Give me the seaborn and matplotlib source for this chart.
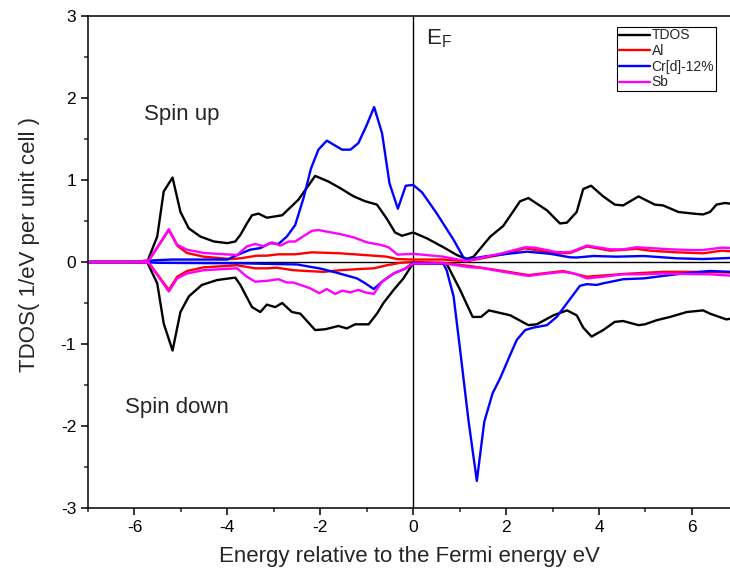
import matplotlib
matplotlib.use("Agg")
import matplotlib.pyplot as plt
from matplotlib.ticker import MultipleLocator
import seaborn as sns
import pandas as pd

# ---------------- data ----------------
tdos_up_x = [-7.0, -6.0, -5.72, -5.51, -5.37, -5.18, -5.01, -4.83, -4.58, -4.29, -4.0, -3.83, -3.72, -3.58, -3.47,
             -3.33, -3.15, -2.82, -2.47, -2.11, -1.82, -1.57, -1.28, -1.03, -0.78, -0.57, -0.39, -0.24, -0.06,
             0.0, 0.29, 0.65, 0.94, 1.15, 1.30, 1.66, 1.94, 2.30, 2.48, 2.88, 3.16, 3.31, 3.52, 3.66, 3.83,
             4.09, 4.34, 4.52, 4.85, 5.20, 5.38, 5.71, 6.03, 6.24, 6.39, 6.53, 6.71, 6.85]
tdos_up_y = [0.0, 0.0, 0.01, 0.31, 0.86, 1.03, 0.61, 0.41, 0.31, 0.25, 0.23, 0.25, 0.33, 0.47, 0.57,
             0.59, 0.54, 0.57, 0.76, 1.05, 0.98, 0.90, 0.80, 0.74, 0.70, 0.53, 0.36, 0.32, 0.35,
             0.36, 0.29, 0.18, 0.085, 0.036, 0.065, 0.31, 0.44, 0.74, 0.78, 0.63, 0.47, 0.48, 0.61, 0.89, 0.93,
             0.80, 0.70, 0.69, 0.80, 0.70, 0.69, 0.61, 0.59, 0.58, 0.61, 0.70, 0.72, 0.71]

tdos_dn_x = [-7.0, -6.0, -5.72, -5.51, -5.37, -5.18, -5.01, -4.83, -4.55, -4.22, -3.83, -3.72, -3.47, -3.29, -3.15,
             -2.97, -2.82, -2.61, -2.43, -2.11, -1.89, -1.61, -1.43, -1.25, -0.96, -0.78, -0.64, -0.42, -0.21,
             -0.03, 0.0, 0.72, 1.01, 1.28, 1.46, 1.63, 2.09, 2.48, 2.66, 3.02, 3.31, 3.52, 3.66, 3.84, 4.09,
             4.34, 4.52, 4.85, 4.99, 5.24, 5.53, 5.89, 6.24, 6.39, 6.74, 6.85]
tdos_dn_y = [0.0, 0.0, -0.01, -0.26, -0.75, -1.08, -0.61, -0.42, -0.28, -0.22, -0.19, -0.28, -0.55, -0.61, -0.52,
             -0.55, -0.50, -0.61, -0.63, -0.83, -0.82, -0.78, -0.81, -0.76, -0.76, -0.63, -0.50, -0.34, -0.20,
             -0.04, -0.02, -0.02, -0.34, -0.67, -0.67, -0.59, -0.65, -0.77, -0.76, -0.65, -0.59, -0.65, -0.80, -0.91, -0.83,
             -0.73, -0.72, -0.77, -0.76, -0.71, -0.67, -0.61, -0.59, -0.63, -0.70, -0.69]

al_up_x = [-7.0, -6.0, -5.69, -5.26, -5.08, -4.87, -4.51, -3.94, -3.72, -3.36, -3.15, -2.90, -2.54, -2.18, -1.57,
           -0.85, -0.57, -0.35, 0.0, 0.65, 1.15, 1.94, 2.41, 3.09, 3.38, 3.74, 4.24, 4.81, 5.10, 5.67, 6.24, 6.64, 6.85]
al_up_y = [0.0, 0.0, 0.02, 0.39, 0.20, 0.11, 0.065, 0.036, 0.045, 0.077, 0.077, 0.094, 0.094, 0.118, 0.106,
           0.077, 0.065, 0.036, 0.03, 0.03, 0.01, 0.094, 0.167, 0.106, 0.11, 0.19, 0.138, 0.16, 0.138, 0.118, 0.106, 0.138, 0.13]

al_dn_x = [-7.0, -6.0, -5.69, -5.26, -5.08, -4.87, -4.51, -3.79, -3.40, -3.15, -2.93, -2.58, -2.29, -1.93, -1.57,
           -1.14, -0.85, -0.57, -0.28, 0.0, 0.65, 1.23, 1.94, 2.48, 3.23, 3.74, 4.52, 5.38, 6.24, 6.85]
al_dn_y = [0.0, 0.0, -0.01, -0.34, -0.18, -0.11, -0.065, -0.04, -0.077, -0.077, -0.07, -0.10, -0.11, -0.12, -0.10,
           -0.085, -0.077, -0.04, -0.01, 0.0, -0.01, -0.05, -0.11, -0.16, -0.11, -0.18, -0.146, -0.12, -0.12, -0.13]

cr_up_x = [-7.0, -5.8, -5.6, -5.2, -4.4, -4.0, -3.85, -3.51, -3.29, -3.08, -2.90, -2.72, -2.54, -2.36, -2.20,
           -2.04, -1.86, -1.71, -1.53, -1.35, -1.18, -1.0, -0.84, -0.67, -0.51, -0.33, -0.16, 0.0, 0.19, 0.51,
           0.87, 1.08, 1.19, 1.51, 1.80, 2.45, 2.95, 3.38, 3.52, 3.88, 4.38, 4.96, 5.38, 5.67, 6.24, 6.85]
cr_up_y = [0.0, 0.0, 0.02, 0.03, 0.03, 0.03, 0.07, 0.15, 0.17, 0.23, 0.22, 0.31, 0.45, 0.78, 1.14,
           1.37, 1.48, 1.43, 1.37, 1.37, 1.45, 1.67, 1.89, 1.57, 0.96, 0.65, 0.93, 0.94, 0.85, 0.59,
           0.27, 0.057, 0.032, 0.065, 0.085, 0.126, 0.10, 0.057, 0.055, 0.073, 0.065, 0.073, 0.057, 0.045, 0.036, 0.05]

cr_dn_x = [-7.0, -5.8, -5.5, -3.72, -2.5, -2.0, -1.65, -1.21, -1.03, -0.85, -0.67, -0.42, -0.17, 0.0, 0.65,
           0.72, 0.87, 1.01, 1.19, 1.37, 1.53, 1.71, 1.87, 2.09, 2.23, 2.41, 2.59, 2.88, 3.09, 3.34, 3.59,
           3.74, 3.95, 4.09, 4.52, 4.96, 5.38, 5.81, 6.39, 6.85]
cr_dn_y = [0.0, 0.0, -0.01, -0.016, -0.03, -0.08, -0.13, -0.20, -0.26, -0.33, -0.24, -0.14, -0.08, -0.01, -0.02,
           -0.10, -0.42, -1.07, -1.93, -2.67, -1.95, -1.60, -1.42, -1.13, -0.95, -0.83, -0.80, -0.77, -0.67, -0.48, -0.29,
           -0.27, -0.28, -0.26, -0.21, -0.20, -0.17, -0.14, -0.11, -0.12]

sb_up_x = [-7.0, -6.0, -5.69, -5.26, -5.08, -4.87, -4.51, -3.79, -3.58, -3.40, -3.22, -3.04, -2.86, -2.68, -2.54,
           -2.18, -2.04, -1.57, -1.28, -1.0, -0.71, -0.53, -0.34, 0.0, 0.65, 1.15, 1.51, 1.94, 2.41, 2.62,
           3.09, 3.38, 3.74, 4.24, 4.52, 4.81, 5.10, 5.53, 5.96, 6.24, 6.64, 6.85]
sb_up_y = [0.0, 0.0, 0.02, 0.40, 0.21, 0.15, 0.11, 0.085, 0.19, 0.22, 0.19, 0.24, 0.20, 0.25, 0.25,
           0.38, 0.39, 0.34, 0.30, 0.24, 0.21, 0.18, 0.09, 0.10, 0.065, 0.01, 0.057, 0.11, 0.18, 0.175,
           0.12, 0.12, 0.20, 0.155, 0.155, 0.18, 0.17, 0.155, 0.146, 0.146, 0.175, 0.17]

sb_dn_x = [-7.0, -6.0, -5.69, -5.26, -5.08, -4.87, -4.51, -3.79, -3.58, -3.40, -3.15, -2.90, -2.72, -2.58, -2.22,
           -2.02, -1.86, -1.68, -1.53, -1.35, -1.18, -1.03, -0.85, -0.67, -0.42, -0.17, 0.0, 0.65, 1.23, 1.44,
           1.94, 2.48, 2.80, 3.23, 3.45, 3.74, 4.09, 4.52, 4.96, 5.38, 5.81, 6.39, 6.85]
sb_dn_y = [0.0, 0.0, -0.01, -0.36, -0.20, -0.14, -0.10, -0.077, -0.18, -0.24, -0.23, -0.21, -0.25, -0.25, -0.32,
           -0.38, -0.33, -0.39, -0.35, -0.37, -0.34, -0.37, -0.39, -0.24, -0.14, -0.08, -0.02, -0.016, -0.065, -0.07,
           -0.12, -0.17, -0.146, -0.12, -0.138, -0.20, -0.18, -0.15, -0.15, -0.14, -0.146, -0.15, -0.167]

series_names = ["TDOS", "Al", "Cr[d]-12%", "Sb"]
series_colors = ["#000000", "#FF0000", "#0000FF", "#FF00FF"]
x_ticks = [-6, -4, -2, 0, 2, 4, 6]
y_ticks = [-3, -2, -1, 0, 1, 2, 3]

# ---------------- figure ----------------
sns.set_theme(style="ticks")
plt.rcParams["font.family"] = ["Liberation Sans", "DejaVu Sans"]
plt.rcParams["axes.linewidth"] = 1.1
plt.rcParams["axes.unicode_minus"] = False

fig = plt.figure(figsize=(7.3, 5.77), dpi=100)
ax = fig.add_axes([88 / 730, 69 / 577, 1 - 88 / 730, 492 / 577])

# reference lines at E_F and zero
ax.axvline(0, color="black", lw=1.0, zorder=1)
ax.axhline(0, color="black", lw=1.0, zorder=1)

pairs = [
    (tdos_up_x, tdos_up_y, tdos_dn_x, tdos_dn_y),
    (al_up_x, al_up_y, al_dn_x, al_dn_y),
    (cr_up_x, cr_up_y, cr_dn_x, cr_dn_y),
    (sb_up_x, sb_up_y, sb_dn_x, sb_dn_y),
]
for name, col, (ux, uy, dx, dy) in zip(series_names, series_colors, pairs):
    up = pd.DataFrame({"E": ux, "DOS": uy})
    dn = pd.DataFrame({"E": dx, "DOS": dy})
    sns.lineplot(data=up, x="E", y="DOS", color=col, lw=1.7, ax=ax, label=name,
                 sort=False, estimator=None, zorder=2)
    sns.lineplot(data=dn, x="E", y="DOS", color=col, lw=1.7, ax=ax,
                 sort=False, estimator=None, zorder=2)

ax.set_xlim(-7, 6.82)
ax.set_ylim(-3, 3)
ax.set_xticks(x_ticks)
ax.set_yticks(y_ticks)
ax.xaxis.set_minor_locator(MultipleLocator(1))
ax.yaxis.set_minor_locator(MultipleLocator(0.5))
ax.tick_params(axis="both", which="major", direction="out", length=5, width=1.1,
               labelsize=12.5, colors="black")
ax.tick_params(axis="both", which="minor", direction="out", length=3, width=1.1)
ax.spines["right"].set_visible(False)
ax.spines["top"].set_visible(True)
for s in ax.spines.values():
    s.set_color("black")

ax.set_xlabel("Energy relative to the Fermi energy eV", fontsize=16, labelpad=8)
ax.set_ylabel("TDOS( 1/eV per unit cell )", fontsize=16)
ax.yaxis.set_label_coords(-0.074, 0.535)

ax.text(-5.8, 1.80, "Spin up", fontsize=16, ha="left", va="center")
ax.text(-6.2, -1.77, "Spin down", fontsize=16, ha="left", va="center")
ax.text(0.28, 2.72, r"E$_\mathregular{F}$", fontsize=16, ha="left", va="center")

leg = ax.legend(loc="upper right", bbox_to_anchor=(0.978, 0.978), fontsize=10,
                frameon=True, fancybox=False, framealpha=1, edgecolor="black",
                handlelength=2.2, handletextpad=0.15, borderpad=0.12, labelspacing=0.12,
                borderaxespad=0)
leg.get_frame().set_linewidth(0.8)

fig.savefig("out.png", dpi=100)
